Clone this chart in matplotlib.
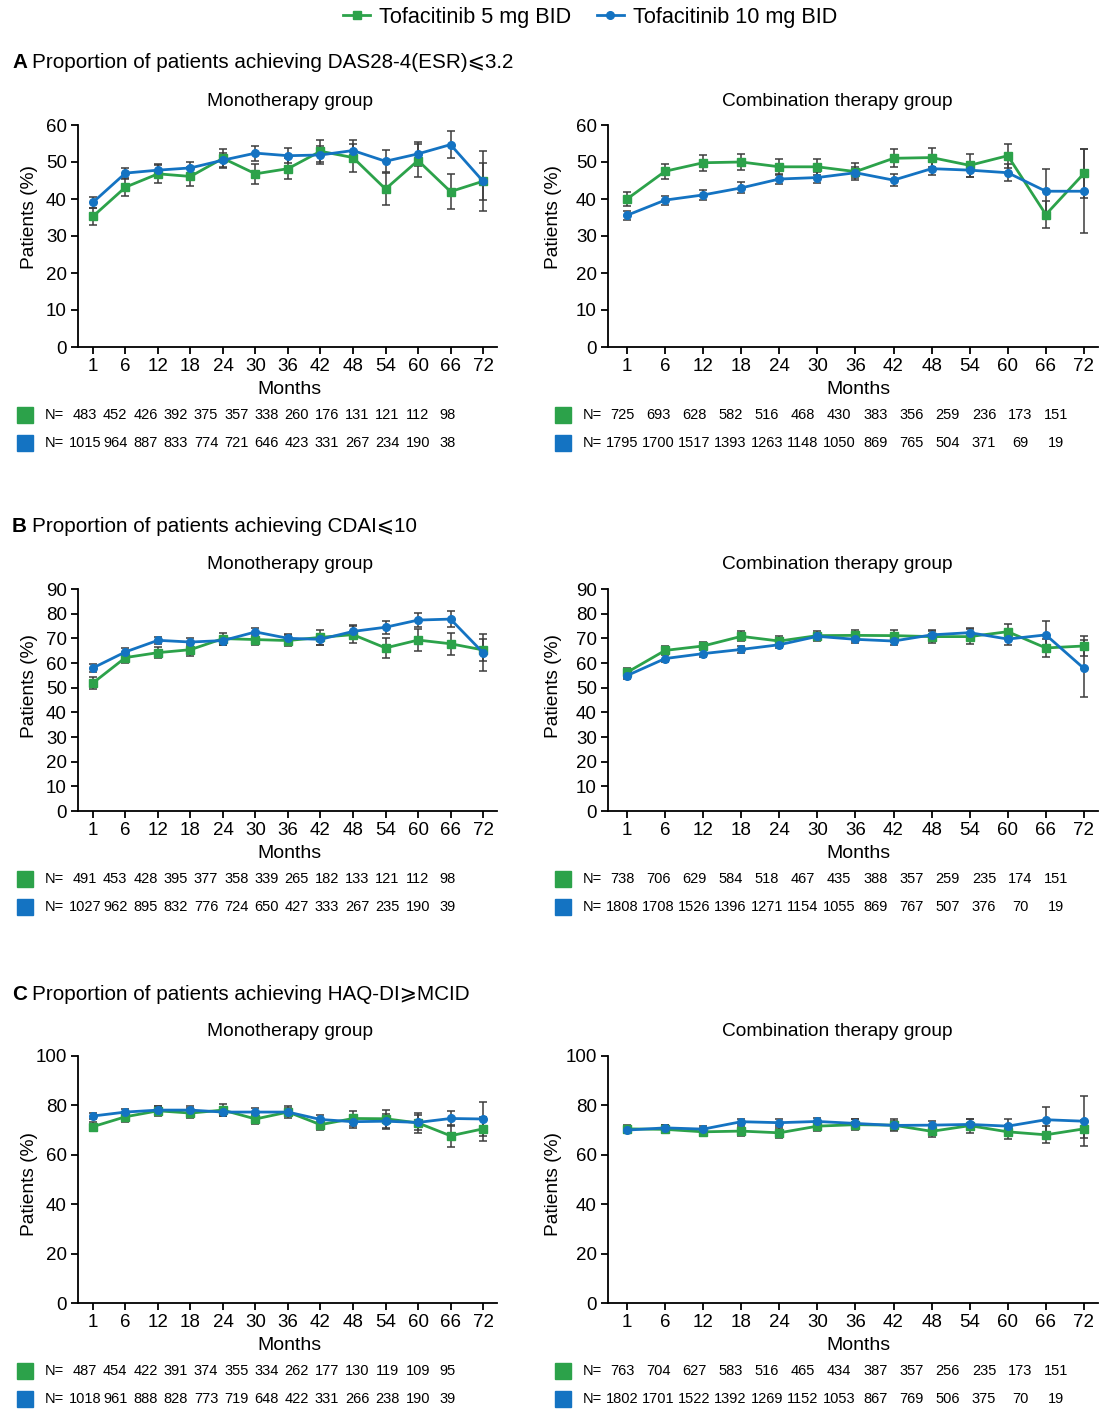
import numpy as np
import matplotlib
matplotlib.use("Agg")
import matplotlib.pyplot as plt
from matplotlib.lines import Line2D

plt.rcParams['font.family'] = ['Liberation Sans', 'DejaVu Sans']

# x categories (months)
months = ['1', '6', '12', '18', '24', '30', '36', '42', '48', '54', '60', '66', '72']

# A: DAS28-4(ESR) <= 3.2, monotherapy
das_mono_5 = [35.3, 43.2, 46.8, 46.1, 51.0, 46.8, 48.2, 52.9, 51.2, 42.7, 50.4, 42.0, 44.8]
das_mono_5_ci = [2.2, 2.4, 2.4, 2.5, 2.4, 2.7, 2.8, 3.0, 3.8, 4.3, 4.5, 4.7, 5.0]
das_mono_10 = [39.1, 47.0, 47.8, 48.4, 50.5, 52.4, 51.7, 51.9, 53.1, 50.2, 52.2, 54.7, 44.8]
das_mono_10_ci = [1.5, 1.5, 1.6, 1.7, 2.0, 2.0, 2.0, 2.4, 2.8, 3.0, 3.2, 3.6, 8.1]
# A: combination
das_comb_5 = [40.0, 47.5, 49.8, 50.0, 48.7, 48.7, 47.4, 51.0, 51.2, 49.1, 51.7, 35.8, 46.9]
das_comb_5_ci = [1.9, 2.0, 2.1, 2.2, 2.2, 2.2, 2.3, 2.4, 2.5, 3.1, 3.2, 3.7, 6.5]
das_comb_10 = [35.6, 39.7, 41.1, 43.0, 45.4, 45.8, 47.1, 45.1, 48.2, 47.8, 47.1, 42.1, 42.1]
das_comb_10_ci = [1.2, 1.2, 1.3, 1.5, 1.4, 1.5, 1.5, 1.7, 1.8, 1.9, 2.3, 5.9, 11.3]

# B: CDAI <= 10
cdai_mono_5 = [51.9, 62.2, 64.2, 65.4, 69.9, 69.5, 69.1, 70.4, 71.5, 66.1, 69.3, 67.8, 65.3]
cdai_mono_5_ci = [2.3, 2.3, 2.3, 2.4, 2.4, 2.4, 2.3, 3.0, 3.5, 4.1, 4.3, 4.5, 4.6]
cdai_mono_10 = [58.0, 64.5, 69.2, 68.5, 69.1, 72.6, 70.0, 69.6, 72.8, 74.5, 77.4, 77.8, 64.2]
cdai_mono_10_ci = [1.6, 1.5, 1.5, 1.6, 1.6, 1.5, 1.9, 2.2, 2.6, 2.7, 2.7, 3.1, 7.6]
cdai_comb_5 = [56.2, 65.1, 66.9, 70.8, 68.9, 71.1, 71.2, 71.1, 70.7, 70.7, 72.7, 66.1, 66.9]
cdai_comb_5_ci = [1.8, 1.6, 1.8, 2.0, 2.0, 2.0, 2.3, 2.4, 2.4, 3.0, 3.1, 3.6, 4.0]
cdai_comb_10 = [54.9, 61.8, 63.8, 65.5, 67.4, 70.8, 69.6, 68.9, 71.4, 72.3, 69.7, 71.4, 57.8]
cdai_comb_10_ci = [1.4, 1.4, 1.4, 1.4, 1.5, 1.5, 1.5, 1.4, 2.0, 2.0, 2.4, 5.5, 11.4]

# C: HAQ-DI >= MCID
haq_mono_5 = [71.4, 75.4, 77.8, 76.9, 78.1, 74.5, 77.3, 72.2, 74.7, 74.6, 72.9, 67.7, 70.5]
haq_mono_5_ci = [1.8, 2.0, 1.9, 2.2, 2.3, 1.9, 2.4, 2.3, 3.1, 3.7, 4.1, 4.5, 4.8]
haq_mono_10 = [75.7, 77.3, 78.1, 78.1, 77.3, 77.3, 77.3, 74.3, 73.4, 73.6, 73.1, 74.7, 74.5]
haq_mono_10_ci = [1.4, 1.4, 1.5, 1.5, 1.6, 1.6, 1.5, 2.0, 2.4, 3.0, 3.1, 3.1, 7.0]
haq_comb_5 = [70.5, 70.3, 69.3, 69.6, 68.9, 71.6, 72.2, 72.0, 69.5, 71.8, 69.3, 68.1, 70.5]
haq_comb_5_ci = [1.6, 1.6, 1.7, 1.8, 2.0, 1.9, 2.2, 2.4, 2.2, 2.8, 2.8, 3.4, 3.6]
haq_comb_10 = [70.0, 70.9, 70.4, 73.4, 73.0, 73.5, 72.7, 71.9, 72.0, 72.3, 71.6, 74.2, 73.6]
haq_comb_10_ci = [1.2, 1.2, 1.3, 1.2, 1.4, 1.5, 1.8, 1.8, 1.6, 2.1, 2.7, 5.3, 10.1]

# N at risk
n_das_mono_5 = [483, 452, 426, 392, 375, 357, 338, 260, 176, 131, 121, 112, 98]
n_das_mono_10 = [1015, 964, 887, 833, 774, 721, 646, 423, 331, 267, 234, 190, 38]
n_das_comb_5 = [725, 693, 628, 582, 516, 468, 430, 383, 356, 259, 236, 173, 151]
n_das_comb_10 = [1795, 1700, 1517, 1393, 1263, 1148, 1050, 869, 765, 504, 371, 69, 19]
n_cdai_mono_5 = [491, 453, 428, 395, 377, 358, 339, 265, 182, 133, 121, 112, 98]
n_cdai_mono_10 = [1027, 962, 895, 832, 776, 724, 650, 427, 333, 267, 235, 190, 39]
n_cdai_comb_5 = [738, 706, 629, 584, 518, 467, 435, 388, 357, 259, 235, 174, 151]
n_cdai_comb_10 = [1808, 1708, 1526, 1396, 1271, 1154, 1055, 869, 767, 507, 376, 70, 19]
n_haq_mono_5 = [487, 454, 422, 391, 374, 355, 334, 262, 177, 130, 119, 109, 95]
n_haq_mono_10 = [1018, 961, 888, 828, 773, 719, 648, 422, 331, 266, 238, 190, 39]
n_haq_comb_5 = [763, 704, 627, 583, 516, 465, 434, 387, 357, 256, 235, 173, 151]
n_haq_comb_10 = [1802, 1701, 1522, 1392, 1269, 1152, 1053, 867, 769, 506, 375, 70, 19]

GREEN = '#2ca24a'
BLUE = '#1473c2'
ERR = '#3c3c3c'

W, H = 1100, 1409
fig = plt.figure(figsize=(W / 100, H / 100), dpi=100)


def ftext(x, y, s, **kw):
    return fig.text(x / W, 1 - y / H, s, **kw)


def panel(l, t, r, b, xlim, ylim, ystep, g, gci, bl, bci):
    ax = fig.add_axes([l / W, 1 - b / H, (r - l) / W, (b - t) / H])
    x = np.arange(len(months))
    ax.errorbar(x, g, yerr=gci, fmt='none', ecolor=ERR, elinewidth=1.1,
                capsize=3, capthick=1.1, zorder=2)
    ax.errorbar(x, bl, yerr=bci, fmt='none', ecolor=ERR, elinewidth=1.1,
                capsize=3, capthick=1.1, zorder=2)
    ax.plot(x, g, color=GREEN, lw=2, marker='s', ms=6, zorder=3)
    ax.plot(x, bl, color=BLUE, lw=2, marker='o', ms=5.5, zorder=4)
    ax.set_xlim(*xlim)
    ax.set_ylim(*ylim)
    ax.set_xticks(x)
    ax.set_xticklabels(months)
    ax.set_yticks(np.arange(ylim[0], ylim[1] + 1, ystep))
    for s in ['top', 'right']:
        ax.spines[s].set_visible(False)
    for s in ['left', 'bottom']:
        ax.spines[s].set_linewidth(1.3)
    ax.tick_params(direction='out', length=5, width=1.3, labelsize=13.5, pad=3)
    return ax


def n_rows(x0, dx, sq_x, y1, y2, n5, n10):
    for y, vals, c in [(y1, n5, GREEN), (y2, n10, BLUE)]:
        fig.patches.append(plt.Rectangle(((sq_x - 8) / W, 1 - (y + 8) / H), 16 / W, 16 / H,
                                         transform=fig.transFigure, color=c, figure=fig))
        ftext(sq_x + 20, y, 'N=', fontsize=10.5, va='center', ha='left')
        for i, v in enumerate(vals):
            ftext(x0 + i * dx, y, str(v), fontsize=10.5, va='center', ha='center')


rows = [
    ('A', 'Proportion of patients achieving DAS28-4(ESR)⩽3.2', 62, 125, 347, (0, 60), 10, 217,
     (das_mono_5, das_mono_5_ci, das_mono_10, das_mono_10_ci),
     (das_comb_5, das_comb_5_ci, das_comb_10, das_comb_10_ci),
     (n_das_mono_5, n_das_mono_10), (n_das_comb_5, n_das_comb_10)),
    ('B', 'Proportion of patients achieving CDAI⩽10', 527, 589, 811, (0, 90), 10, 686,
     (cdai_mono_5, cdai_mono_5_ci, cdai_mono_10, cdai_mono_10_ci),
     (cdai_comb_5, cdai_comb_5_ci, cdai_comb_10, cdai_comb_10_ci),
     (n_cdai_mono_5, n_cdai_mono_10), (n_cdai_comb_5, n_cdai_comb_10)),
    ('C', 'Proportion of patients achieving HAQ-DI⩾MCID', 995, 1056, 1303, (0, 100), 20, 1184,
     (haq_mono_5, haq_mono_5_ci, haq_mono_10, haq_mono_10_ci),
     (haq_comb_5, haq_comb_5_ci, haq_comb_10, haq_comb_10_ci),
     (n_haq_mono_5, n_haq_mono_10), (n_haq_comb_5, n_haq_comb_10)),
]

for letter, head, hy, top, bot, ylim, ystep, ylab_y, mono, comb, nm, nc in rows:
    ftext(12, hy, letter, fontsize=14.9, fontweight='bold', va='center', ha='left')
    ftext(32, hy, head, fontsize=14.9, va='center', ha='left')

    panel(78, top, 497, bot, (-0.46, 12.43), ylim, ystep, *mono)
    panel(608, top, 1098, bot, (-0.5, 12.37), ylim, ystep, *comb)

    ftext(290, top - 24, 'Monotherapy group', fontsize=13.8, va='center', ha='center')
    ftext(837, top - 24, 'Combination therapy group', fontsize=13.8, va='center', ha='center')
    ftext(29, ylab_y, 'Patients (%)', fontsize=13.8, rotation=90, va='center', ha='center')
    ftext(553, ylab_y, 'Patients (%)', fontsize=13.8, rotation=90, va='center', ha='center')
    ftext(289, bot + 42, 'Months', fontsize=14, va='center', ha='center')
    ftext(858, bot + 42, 'Months', fontsize=14, va='center', ha='center')

    n_rows(85, 30.25, 25, bot + 68, bot + 96, *nm)
    n_rows(622, 36.2, 563, bot + 68, bot + 96, *nc)

handles = [Line2D([], [], color=GREEN, lw=2, marker='s', ms=6),
           Line2D([], [], color=BLUE, lw=2, marker='o', ms=5.5)]
fig.legend(handles, ['Tofacitinib 5 mg BID', 'Tofacitinib 10 mg BID'], loc='center',
           bbox_to_anchor=(590 / W, 1 - 17 / H), ncol=2, frameon=False, fontsize=15.6,
           handlelength=1.25, columnspacing=1.2, handletextpad=0.4)

fig.savefig('out.png', dpi=100)
